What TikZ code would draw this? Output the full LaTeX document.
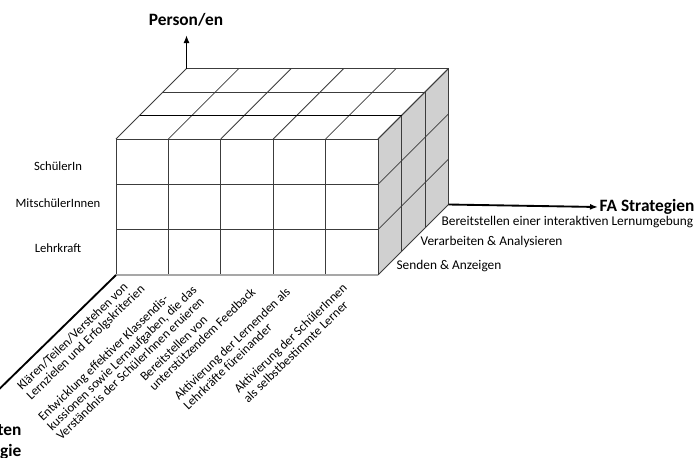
\documentclass[tikz,border=0pt]{standalone}
\usepackage{fontspec}
\setmainfont{Carlito}
\usetikzlibrary{arrows.meta}

\definecolor{sidegray}{RGB}{208,208,208}
\definecolor{linegray}{RGB}{60,60,60}

\tikzset{
	cell/.style={draw=linegray,line width=0.6pt},
	axis/.style={line width=1.4pt,-{Latex[length=6pt,width=4.5pt]}},
	lbl/.style={font=\fontsize{10}{10}\selectfont,inner sep=1pt},
	diaglbl/.style={font=\fontsize{9.6}{9.9}\selectfont,inner sep=1pt,align=left,rotate=44,anchor=base west},
	rowlbl/.style={font=\fontsize{9.5}{11}\selectfont,inner sep=1pt},
	head/.style={font=\fontsize{13}{15.5}\selectfont\bfseries,inner sep=1pt},
}

\begin{document}
\begin{tikzpicture}[x=0.75pt,y=-0.75pt]
	\useasboundingbox (0,0) rectangle (698,457);
	\def\colw{52.4}
	\def\rowh{45.33}
	\def\dep{23.5}
	
	%BOX
	\fill[sidegray] (378,139)--(378+3*\dep,139-3*\dep)--(378+3*\dep,275-3*\dep)--(378,275)--cycle;	%right side
	
	%lines
	\foreach \i in {0,...,5}{
	\draw[cell] (116+\i*\colw,139)--(116+\i*\colw,275);				%front
	\draw[cell] (116+\i*\colw,139)--++(3*\dep,-3*\dep);				%top
	}
	\foreach \j in {0,...,2}{
	\draw[cell] (116,139+\j*\rowh)--(378,139+\j*\rowh);				%front
	}
	\foreach \j in {0,...,3}
	\draw[cell] (378,139+\j*\rowh)--++(3*\dep,-3*\dep);				%right
	\foreach \k in {1,2,3}{
	\draw[cell] (116+\k*\dep,139-\k*\dep)--++(262,0);					%top
	\draw[cell] (378+\k*\dep,139-\k*\dep)--++(0,136);					%right
	}
	\draw[line width=1pt,black] (116+\dep,139-\dep)--++(262,0);		%top, first layer
	\draw[line width=1.2pt,sidegray!80!black] (116,275)--(378,275);	%front, bottom edge
	
	%AXES
	\coordinate (origin) at (116,275);
	\coordinate (topCorner) at (116+3*\dep,139-3*\dep);
	\coordinate (rightCorner) at (378+3*\dep,275-3*\dep);
	\coordinate (upEnd) at (116+3*\dep,35);
	\coordinate (downEnd) at (-14,402);
	\node[head] (person) at (186,20) {Person/en};
	\node[head,anchor=west] (strategies) at (598,207) {FA Strategien};
	\node[head,align=right,anchor=north east] (activities) at (23,423) {ten\\gie};
	\draw[axis] (topCorner)--(upEnd);
	\draw[axis] (rightCorner)--(strategies.west);
	\draw[axis] (origin)--(downEnd);
	
	%LABELS -- LEFT
	\foreach \t/\y [count=\i] in {SchülerIn/166,MitschülerInnen/203,Lehrkraft/248}
	\node[rowlbl] (person\i) at (58,\y) {\t};
	
	%LABELS -- RIGHT
	\foreach \t/\x/\y [count=\i] in {{Senden \& Anzeigen}/395/266,{Verarbeiten \& Analysieren}/419/242,{Bereitstellen einer interaktiven Lernumgebung}/440/222}
	\node[lbl,anchor=west] (tech\i) at (\x,\y) {\t};
	
	%LABELS -- BOTTOM (start of last line)
	\foreach \t/\x/\y [count=\i] in {{Klären/Teilen/Verstehen von\\Lernzielen und Erfolgskriterien}/30.2/401.5,{Entwicklung effektiver Klassendis-\\kussionen sowie Lernaufgaben, die das\\Verständnis der SchülerInnen eruieren}/60.3/442,{Bereitstellen von\\unterstützendem Feedback}/153.2/392.5,{Aktivierung der Lernenden als\\Lehrkräfte füreinander}/187.2/411.5,{Aktivierung der SchülerInnen\\als selbstbestimmte Lerner}/247.2/404.5}
	\node[diaglbl] (strat\i) at (\x,\y) {\t};
	
\end{tikzpicture}
\end{document}
